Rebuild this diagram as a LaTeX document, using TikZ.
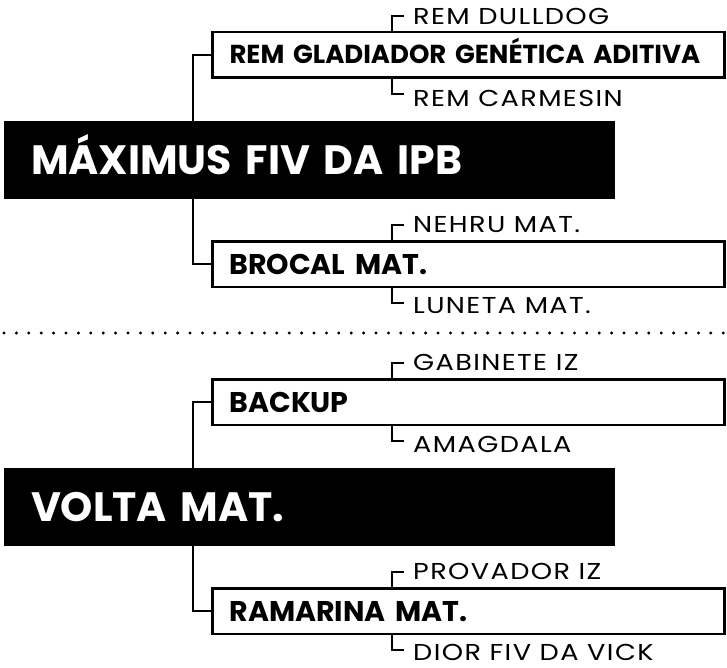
\documentclass[tikz,border=0pt]{standalone}
\usepackage{fontspec}
\setmainfont{Poppins}
\usetikzlibrary{positioning}

\begin{document}
\begin{tikzpicture}[x=1pt, y=-1pt,
  parent/.style={fill=black, text=white, font=\fontsize{41}{41}\selectfont\bfseries, text width=557pt, inner xsep=27pt, minimum height=78pt, align=left, text height=28.5pt, text depth=0pt},
  kid/.style={draw, line width=2.5pt, fill=white, font=\fontsize{28.5}{28.5}\selectfont\bfseries, text width=478pt, inner xsep=17pt, minimum height=45.5pt, align=left, text height=20pt, text depth=0pt},
  lbl/.style={font=\fontsize{23}{23}\selectfont\addfontfeature{FakeStretch=1.18,LetterSpace=6}, anchor=west, inner sep=0pt},
  tree/.style={line width=2.5pt},
  brk/.style={line width=2pt},
  sep/.style={line width=3.3pt, line cap=round, dash pattern=on 0pt off 12.4pt}
]
\useasboundingbox (0,0) rectangle (727,668);
\coordinate (bx) at (392,0);

% first animal
\coordinate (t1) at (193,160);
\node[kid, text height=18pt, font=\fontsize{26}{26}\selectfont\bfseries] (sire) at (468.5,55) {REM GLADIADOR GENÉTICA ADITIVA};
\node[kid] (dam) at (468.5,264) {BROCAL MAT.};
\draw[tree] (sire.west) -| (t1) |- (dam.west);
\node[parent] (max) at (309.5,160) {MÁXIMUS FIV DA IPB};

\node[lbl] (sireS) at (413,16) {REM DULLDOG};
\node[lbl] (sireD) at (413,98) {REM CARMESIN};
\node[lbl] (damS) at (413,224.5) {NEHRU MAT.};
\node[lbl] (damD) at (413,306) {LUNETA MAT.};
\draw[brk] (sire.north -| bx) |- ([xshift=-9pt]sireS.west);
\draw[brk] (sire.south -| bx) |- ([xshift=-9pt,yshift=4pt]sireD.west);
\draw[brk] (dam.north -| bx) |- ([xshift=-9pt]damS.west);
\draw[brk] (dam.south -| bx) |- ([xshift=-9pt,yshift=3pt]damD.west);

\coordinate (sepL) at (4,333);
\coordinate (sepR) at (727,333);
\draw[sep] (sepL) -- (sepR);

% second animal
\coordinate (t2) at (193,507);
\node[kid] (bk) at (468.5,402) {BACKUP};
\node[kid] (rm) at (468.5,611) {RAMARINA MAT.};
\draw[tree] (bk.west) -| (t2) |- (rm.west);
\node[parent] (volta) at (309.5,507) {VOLTA MAT.};

\node[lbl] (bkS) at (413,362.5) {GABINETE IZ};
\node[lbl] (bkD) at (413,444) {AMAGDALA};
\node[lbl] (rmS) at (413,571.5) {PROVADOR IZ};
\node[lbl] (rmD) at (413,652) {DIOR FIV DA VICK};
\draw[brk] (bk.north -| bx) |- ([xshift=-9pt]bkS.west);
\draw[brk] (bk.south -| bx) |- ([xshift=-9pt,yshift=3pt]bkD.west);
\draw[brk] (rm.north -| bx) |- ([xshift=-9pt]rmS.west);
\draw[brk] (rm.south -| bx) |- ([xshift=-9pt,yshift=2pt]rmD.west);
\end{tikzpicture}
\end{document}
